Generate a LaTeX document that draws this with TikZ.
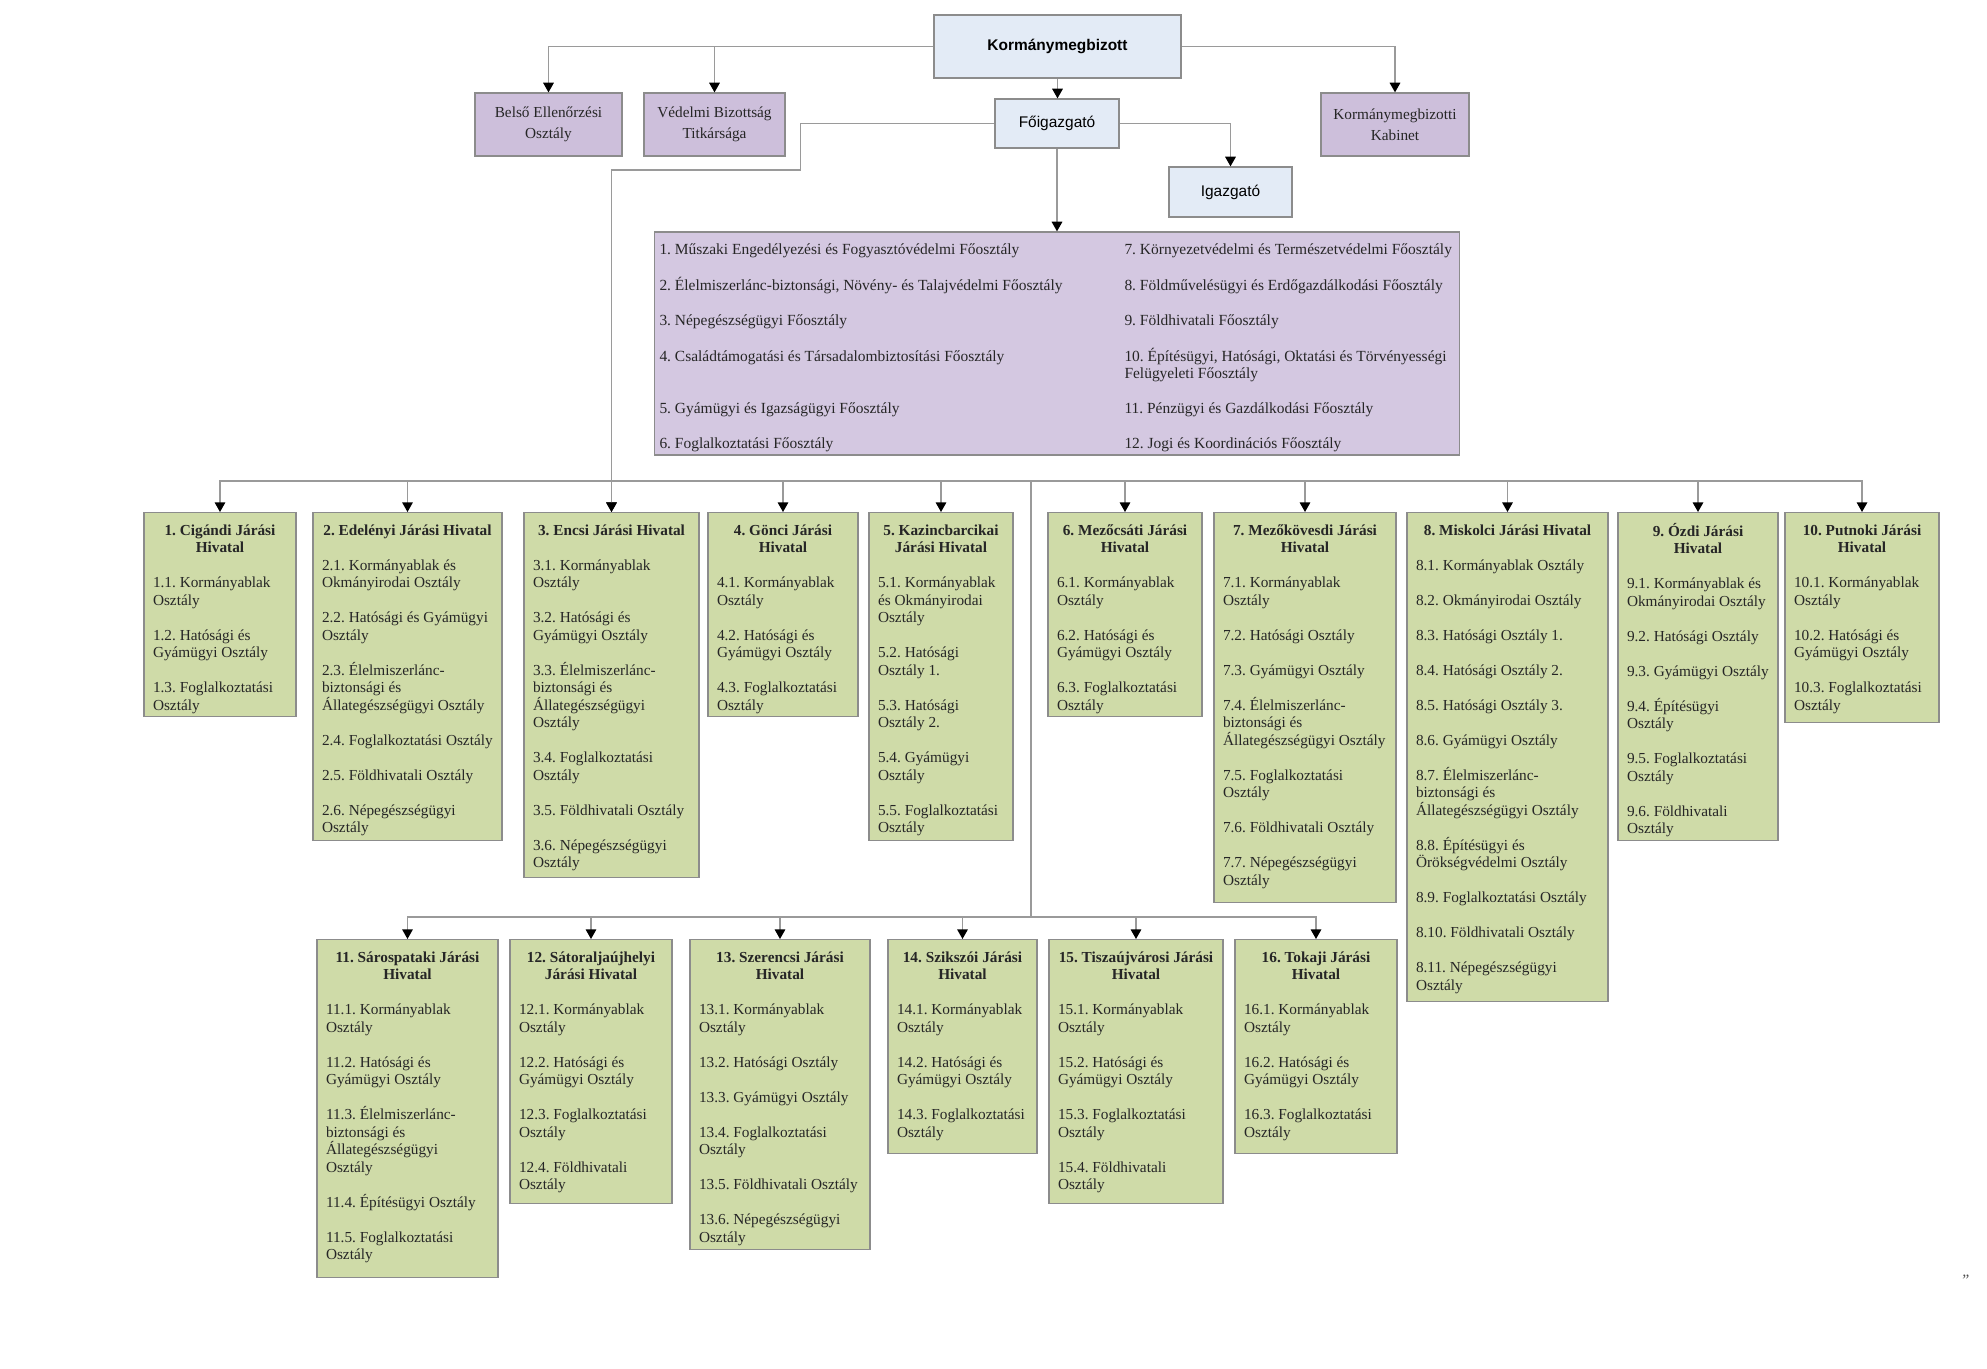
\documentclass[tikz,border=0pt]{standalone}
\usepackage{fontspec}
\setmainfont{Liberation Serif}
\setsansfont{Liberation Sans}
\usetikzlibrary{arrows.meta}
\frenchspacing
\newlength\upx \setlength\upx{0.2mm}
\definecolor{kek}{HTML}{E3EBF6}
\definecolor{lila}{HTML}{CDBFDB}
\definecolor{lilavil}{HTML}{D4C8E1}
\definecolor{zold}{HTML}{CFDBA8}
\definecolor{keret}{HTML}{8C8C8C}
\definecolor{vonal}{HTML}{9A9A9A}
\newcommand\jh[4]{\parbox[c][#2\upx][t]{#1\upx}{\vspace*{10.5\upx}{\centering\bfseries\strut #3\par}\setlength\parskip{17.5\upx}\raggedright\leftskip=9\upx\relax #4}}
\tikzset{
  kekbox/.style={draw=keret, fill=kek, line width=0.7pt, font=\sffamily\fontsize{8.8}{10.5}\selectfont},
  lilabox/.style={draw=keret, fill=lila, line width=0.7pt, text=black!85, font=\fontsize{8.7}{12}\selectfont},
  zoldbox/.style={draw=keret, fill=zold, line width=0.7pt, inner sep=0pt, anchor=north, text=black!85, font=\fontsize{8.7}{9.96}\selectfont},
  conn/.style={draw=vonal, line width=0.8pt},
  arr/.style={conn, -{Triangle[width=6pt,length=5.5pt,color=black]}}
}
\begin{document}
\begin{tikzpicture}[x=0.2mm, y=-0.2mm]
    \fill[white] (0,0) rectangle (1987,1368); \useasboundingbox (0,0) rectangle (1987,1368);
    \node[kekbox, font=\sffamily\bfseries\fontsize{8.8}{10.5}\selectfont, minimum width=49.4mm, minimum height=12.6mm] (kmb) at (1057.5,46.5) {Kormánymegbizott};
    \node[lilabox, align=center, minimum width=29.4mm, minimum height=12.6mm] (beo) at (548.5,124.5) {Belső Ellenőrzési\\Osztály};
    \node[lilabox, align=center, minimum width=28.2mm, minimum height=12.6mm] (vbt) at (714.5,124.5) {Védelmi Bizottság\\Titkársága};
    \node[lilabox, align=center, minimum width=29.6mm, minimum height=12.6mm] (kab) at (1395,124.5) {Kormánymegbizotti\\Kabinet};
    \node[kekbox, minimum width=24.8mm, minimum height=9.8mm] (fig) at (1057,123.5) {Főigazgató};
    \node[kekbox, minimum width=24.6mm, minimum height=10mm] (igz) at (1230.5,192) {Igazgató};
    \node[lilabox, fill=lilavil, inner sep=0pt, minimum width=160.8mm, minimum height=44.6mm, font=\fontsize{8.8}{9.96}\selectfont] (fo) at (1057,343.5) {\begin{tabular}{@{\hspace{5\upx}}p{465\upx}@{}p{335\upx}@{}}
        \rule{0pt}{21\upx}1. Műszaki Engedélyezési és Fogyasztóvédelmi Főosztály & 7. Környezetvédelmi és Természetvédelmi Főosztály\\[17.5\upx]
        2. Élelmiszerlánc-biztonsági, Növény- és Talajvédelmi Főosztály & 8. Földművelésügyi és Erdőgazdálkodási Főosztály\\[17.5\upx]
        3. Népegészségügyi Főosztály & 9. Földhivatali Főosztály\\[17.5\upx]
        4. Családtámogatási és Társadalombiztosítási Főosztály & 10. Építésügyi, Hatósági, Oktatási és Törvényességi\newline Felügyeleti Főosztály\\[17.5\upx]
        5. Gyámügyi és Igazságügyi Főosztály & 11. Pénzügyi és Gazdálkodási Főosztály\\[17.5\upx]
        6. Foglalkoztatási Főosztály & 12. Jogi és Koordinációs Főosztály
      \end{tabular}};
    \node[zoldbox] (h1) at (220,512) {\jh{152}{204}{1. Cigándi Járási\\Hivatal}{1.1. Kormányablak\\Osztály\par 1.2. Hatósági és\\Gyámügyi Osztály\par 1.3. Foglalkoztatási\\Osztály}};
    \node[zoldbox] (h2) at (407.5,512) {\jh{189}{328}{2. Edelényi Járási Hivatal}{2.1. Kormányablak és\\Okmányirodai Osztály\par 2.2. Hatósági és Gyámügyi\\Osztály\par 2.3. Élelmiszerlánc-\\biztonsági és\\Állategészségügyi Osztály\par 2.4. Foglalkoztatási Osztály\par 2.5. Földhivatali Osztály\par 2.6. Népegészségügyi\\Osztály}};
    \node[zoldbox] (h3) at (611.5,512) {\jh{175}{365}{3. Encsi Járási Hivatal}{3.1. Kormányablak\\Osztály\par 3.2. Hatósági és\\Gyámügyi Osztály\par 3.3. Élelmiszerlánc-\\biztonsági és\\Állategészségügyi\\Osztály\par 3.4. Foglalkoztatási\\Osztály\par 3.5. Földhivatali Osztály\par 3.6. Népegészségügyi\\Osztály}};
    \node[zoldbox] (h4) at (783,512) {\jh{150}{204}{4. Gönci Járási\\Hivatal}{4.1. Kormányablak\\Osztály\par 4.2. Hatósági és\\Gyámügyi Osztály\par 4.3. Foglalkoztatási\\Osztály}};
    \node[zoldbox] (h5) at (941,512) {\jh{144}{328}{5. Kazincbarcikai\\Járási Hivatal}{5.1. Kormányablak\\és Okmányirodai\\Osztály\par 5.2. Hatósági\\Osztály 1.\par 5.3. Hatósági\\Osztály 2.\par 5.4. Gyámügyi\\Osztály\par 5.5. Foglalkoztatási\\Osztály}};
    \node[zoldbox] (h6) at (1125,512) {\jh{154}{204}{6. Mezőcsáti Járási\\Hivatal}{6.1. Kormányablak\\Osztály\par 6.2. Hatósági és\\Gyámügyi Osztály\par 6.3. Foglalkoztatási\\Osztály}};
    \node[zoldbox] (h7) at (1305,512) {\jh{182}{390}{7. Mezőkövesdi Járási\\Hivatal}{7.1. Kormányablak\\Osztály\par 7.2. Hatósági Osztály\par 7.3. Gyámügyi Osztály\par 7.4. Élelmiszerlánc-\\biztonsági és\\Állategészségügyi Osztály\par 7.5. Foglalkoztatási\\Osztály\par 7.6. Földhivatali Osztály\par 7.7. Népegészségügyi\\Osztály}};
    \node[zoldbox] (h8) at (1507.5,512) {\jh{201}{489}{8. Miskolci Járási Hivatal}{8.1. Kormányablak Osztály\par 8.2. Okmányirodai Osztály\par 8.3. Hatósági Osztály 1.\par 8.4. Hatósági Osztály 2.\par 8.5. Hatósági Osztály 3.\par 8.6. Gyámügyi Osztály\par 8.7. Élelmiszerlánc-\\biztonsági és\\Állategészségügyi Osztály\par 8.8. Építésügyi és\\Örökségvédelmi Osztály\par 8.9. Foglalkoztatási Osztály\par 8.10. Földhivatali Osztály\par 8.11. Népegészségügyi\\Osztály}};
    \node[zoldbox] (h9) at (1698,512) {\jh{160}{328}{9. Ózdi Járási\\Hivatal}{9.1. Kormányablak és\\Okmányirodai Osztály\par 9.2. Hatósági Osztály\par 9.3. Gyámügyi Osztály\par 9.4. Építésügyi\\Osztály\par 9.5. Foglalkoztatási\\Osztály\par 9.6. Földhivatali\\Osztály}};
    \node[zoldbox] (h10) at (1862,512) {\jh{154}{210}{10. Putnoki Járási\\Hivatal}{10.1. Kormányablak\\Osztály\par 10.2. Hatósági és\\Gyámügyi Osztály\par 10.3. Foglalkoztatási\\Osztály}};
    \node[zoldbox] (h11) at (407.5,939) {\jh{181}{338}{11. Sárospataki Járási\\Hivatal}{11.1. Kormányablak\\Osztály\par 11.2. Hatósági és\\Gyámügyi Osztály\par 11.3. Élelmiszerlánc-\\biztonsági és\\Állategészségügyi\\Osztály\par 11.4. Építésügyi Osztály\par 11.5. Foglalkoztatási\\Osztály}};
    \node[zoldbox] (h12) at (591,939) {\jh{162}{264}{12. Sátoraljaújhelyi\\Járási Hivatal}{12.1. Kormányablak\\Osztály\par 12.2. Hatósági és\\Gyámügyi Osztály\par 12.3. Foglalkoztatási\\Osztály\par 12.4. Földhivatali\\Osztály}};
    \node[zoldbox] (h13) at (780,939) {\jh{180}{310}{13. Szerencsi Járási\\Hivatal}{13.1. Kormányablak\\Osztály\par 13.2. Hatósági Osztály\par 13.3. Gyámügyi Osztály\par 13.4. Foglalkoztatási\\Osztály\par 13.5. Földhivatali Osztály\par 13.6. Népegészségügyi\\Osztály}};
    \node[zoldbox] (h14) at (962.5,939) {\jh{149}{214}{14. Szikszói Járási\\Hivatal}{14.1. Kormányablak\\Osztály\par 14.2. Hatósági és\\Gyámügyi Osztály\par 14.3. Foglalkoztatási\\Osztály}};
    \node[zoldbox] (h15) at (1136,939) {\jh{174}{264}{15. Tiszaújvárosi Járási\\Hivatal}{15.1. Kormányablak\\Osztály\par 15.2. Hatósági és\\Gyámügyi Osztály\par 15.3. Foglalkoztatási\\Osztály\par 15.4. Földhivatali\\Osztály}};
    \node[zoldbox] (h16) at (1316,939) {\jh{162}{214}{16. Tokaji Járási\\Hivatal}{16.1. Kormányablak\\Osztály\par 16.2. Hatósági és\\Gyámügyi Osztály\par 16.3. Foglalkoztatási\\Osztály}};
    \node[font=\itshape\fontsize{9}{10}\selectfont, text=black!70] (jel) at (1965,1280) {”};
    \draw[arr] (kmb.west) -| (beo.north);  \draw[arr] (kmb.west) -| (vbt.north);
    \draw[arr] (kmb.east) -| (kab.north);  \draw[arr] (kmb.south) -- (kmb.south |- fig.north);
    \draw[arr] (fig.east) -| (igz.north);  \draw[arr] (fig.south) -- (fig.south |- fo.north);
    \draw[arr] (fig.west) -- ++(-194,0) -- ++(0,46.5) -| (h3.north);
    \coordinate (b1) at (1031,481); \coordinate (b2) at (1031,917);
    \draw[conn] (b1) -- (b2);
    \foreach \i in {1,...,10} \draw[arr] (b1) -| (h\i.north);
    \foreach \i in {11,...,16} \draw[arr] (b2) -| (h\i.north);
\end{tikzpicture}
\end{document}
